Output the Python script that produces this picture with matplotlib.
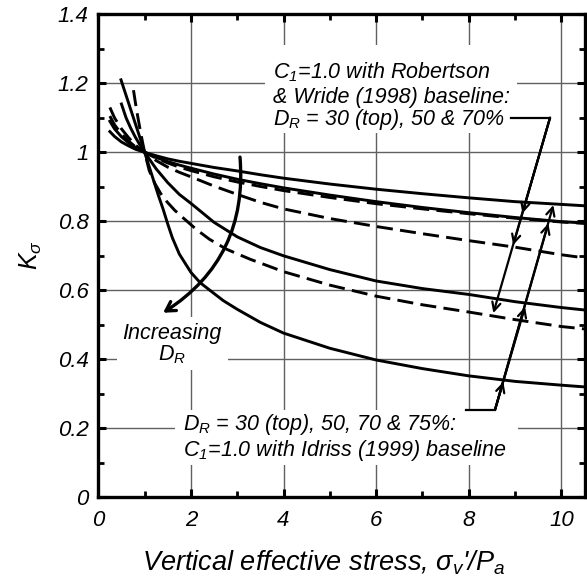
import matplotlib
matplotlib.use("Agg")
import matplotlib.pyplot as plt
from matplotlib.patches import Rectangle
from matplotlib.ticker import MultipleLocator

plt.rcParams['font.family'] = ['Liberation Sans', 'DejaVu Sans']
plt.rcParams['font.style'] = 'italic'
plt.rcParams['mathtext.fontset'] = 'custom'
plt.rcParams['mathtext.rm'] = 'Liberation Sans'
plt.rcParams['mathtext.it'] = 'Liberation Sans:italic'
plt.rcParams['mathtext.bf'] = 'Liberation Sans:bold'

# ---------------- data ----------------
# Idriss (1999) baseline, C1 = 1.0 (solid lines)
x_I30 = [0.25, 0.35, 0.5, 0.65, 0.8, 1, 1.25, 1.5, 1.75, 2, 2.5, 3, 3.5, 4, 5, 6, 7, 8, 9, 10, 10.5]
K_I30 = [1.060, 1.046, 1.030, 1.019, 1.009, 1.0, 0.990, 0.981, 0.974, 0.968, 0.956, 0.946, 0.935,
         0.925, 0.908, 0.893, 0.880, 0.868, 0.857, 0.849, 0.845]
x_I50 = [0.25, 0.35, 0.5, 0.65, 0.8, 1, 1.25, 1.5, 1.75, 2, 2.5, 3, 3.5, 4, 5, 6, 7, 8, 9, 10, 10.5]
K_I50 = [1.090, 1.068, 1.045, 1.028, 1.014, 1.0, 0.985, 0.973, 0.963, 0.954, 0.937, 0.922, 0.909,
         0.897, 0.876, 0.857, 0.840, 0.825, 0.811, 0.799, 0.795]
x_I70 = [0.5, 0.6, 0.7, 0.8, 0.9, 1, 1.25, 1.5, 1.75, 2, 2.5, 3, 3.5, 4, 5, 6, 7, 8, 9, 10, 10.5]
K_I70 = [1.140, 1.100, 1.070, 1.044, 1.021, 1.0, 0.952, 0.912, 0.878, 0.852, 0.797, 0.755, 0.724,
         0.700, 0.660, 0.627, 0.605, 0.588, 0.567, 0.550, 0.543]
x_I75 = [0.49, 0.6, 0.7, 0.8, 0.9, 1, 1.1, 1.2, 1.3, 1.4, 1.5, 1.6, 1.75, 2, 2.2, 2.41, 2.7, 3, 3.5,
         4, 5, 6, 7, 8, 9, 10, 10.5]
K_I75 = [1.210, 1.165, 1.124, 1.083, 1.042, 1.0, 0.958, 0.916, 0.874, 0.835, 0.792, 0.752, 0.705,
         0.652, 0.622, 0.600, 0.570, 0.545, 0.507, 0.476, 0.432, 0.398, 0.373, 0.352, 0.336, 0.325,
         0.320]

# Robertson & Wride (1998) baseline, C1 = 1.0 (dashed lines)
x_R30 = [0.25, 0.35, 0.5, 0.65, 0.8, 1, 1.25, 1.5, 1.75, 2, 2.5, 3, 3.5, 4, 5, 6, 7, 8, 9, 10, 10.5]
K_R30 = [1.105, 1.080, 1.053, 1.033, 1.016, 1.0, 0.983, 0.969, 0.957, 0.947, 0.929, 0.914, 0.901,
         0.889, 0.869, 0.851, 0.836, 0.822, 0.809, 0.798, 0.794]
x_R50 = [0.25, 0.35, 0.5, 0.65, 0.8, 1, 1.25, 1.5, 1.75, 2, 2.5, 3, 3.5, 4, 5, 6, 7, 8, 9, 10, 10.5]
K_R50 = [1.130, 1.100, 1.068, 1.043, 1.021, 1.0, 0.976, 0.957, 0.942, 0.929, 0.902, 0.878, 0.855,
         0.836, 0.808, 0.785, 0.764, 0.744, 0.725, 0.703, 0.694]
x_R70 = [0.76, 0.8, 0.85, 0.9, 0.95, 1, 1.1, 1.22, 1.35, 1.48, 1.65, 1.84, 2.13, 2.4, 2.77, 3.28,
         4, 5, 6, 7, 8, 9, 10, 10.5]
K_R70 = [1.180, 1.145, 1.105, 1.068, 1.033, 1.0, 0.947, 0.910, 0.880, 0.857, 0.832, 0.809, 0.775,
         0.748, 0.719, 0.690, 0.654, 0.615, 0.583, 0.558, 0.537, 0.515, 0.495, 0.488]

x_ticks = [0, 2, 4, 6, 8, 10]
x_tick_labels = ['0', '2', '4', '6', '8', '10']
y_ticks = [0, 0.2, 0.4, 0.6, 0.8, 1.0, 1.2, 1.4]
y_tick_labels = ['0', '0.2', '0.4', '0.6', '0.8', '1', '1.2', '1.4']

# ---------------- figure ----------------
W, H = 587, 585
fig = plt.figure(figsize=(W / 100, H / 100), dpi=100)
ax = fig.add_axes([98.3 / W, (H - 497.3) / H, (584.5 - 98.3) / W, (497.3 - 14.3) / H])
ax.set_xlim(0, 10.5)
ax.set_ylim(0, 1.4)
ax.set_axisbelow(True)
ax.grid(True, which='major', color='#606060', lw=1.0)

lw = 2.1
dash = (0, (5.5, 2.5))
for xs, ks in [(x_I30, K_I30), (x_I50, K_I50), (x_I70, K_I70), (x_I75, K_I75)]:
    ax.plot(xs, ks, color='black', lw=lw, solid_joinstyle='round', zorder=3)
for xs, ks in [(x_R30, K_R30), (x_R50, K_R50), (x_R70, K_R70)]:
    ax.plot(xs, ks, color='black', lw=lw, ls=dash, zorder=3)

ax.set_xticks(x_ticks)
ax.set_xticklabels(x_tick_labels)
ax.set_yticks(y_ticks)
ax.set_yticklabels(y_tick_labels)
ax.xaxis.set_minor_locator(MultipleLocator(1))
ax.yaxis.set_minor_locator(MultipleLocator(0.1))
ax.tick_params(which='both', direction='in', top=True, right=True, width=2.2)
ax.tick_params(which='major', length=6)
ax.tick_params(which='minor', length=4, width=2.0)
ax.tick_params(axis='x', which='major', labelsize=16, pad=9)
ax.tick_params(axis='y', which='major', labelsize=16, pad=7)
for s in ax.spines.values():
    s.set_linewidth(2.4)

fig.text(324 / W, 1 - 563 / H, r"Vertical effective stress, $\mathrm{\sigma}_v$'/$P_a$",
         fontsize=19.5, ha='center', va='center')
fig.text(31 / W, 1 - 255 / H, r"$K_{\mathrm{\sigma}}$", fontsize=18, rotation=90,
         ha='center', va='center')

# white boxes behind the labels (they hide the grid)
for (x0, y0, w, h) in [(3.6, 1.056, 5.44, 0.255), (0.404, 0.369, 2.40, 0.154), (1.66, 0.094, 7.4, 0.16)]:
    ax.add_patch(Rectangle((x0, y0), w, h, fc='white', ec='none', zorder=1))

fs = 15.5
ax.text(3.78, 1.2145, r"$C_{\mathit{1}}$=1.0 with Robertson", fontsize=fs, va='baseline', zorder=4)
ax.text(3.78, 1.143, "& Wride (1998) baseline:", fontsize=fs, va='baseline', zorder=4)
ax.text(3.78, 1.079, r"$D_R$ = 30 (top), 50 & 70%", fontsize=fs, va='baseline', zorder=4)

ax.text(1.823, 0.195, r"$D_R$ = 30 (top), 50, 70 & 75%:", fontsize=fs, va='baseline', zorder=4)
ax.text(1.823, 0.12, r"$C_{\mathit{1}}$=1.0 with Idriss (1999) baseline", fontsize=fs, va='baseline', zorder=4)

ax.text(1.59, 0.476, "Increasing", fontsize=fs, ha='center', va='center', zorder=4)
ax.text(1.59, 0.412, r"$D_R$", fontsize=fs, ha='center', va='center', zorder=4)

# leader arrows
aprops = dict(arrowstyle='->,head_length=0.6,head_width=0.3', lw=1.6, color='black',
              shrinkA=0, shrinkB=0)
cR = (9.755, 1.100)
ax.plot([8.92, cR[0]], [cR[1], cR[1]], color='black', lw=1.6, zorder=4)
for t in [(9.158, 0.823), (8.959, 0.731), (8.531, 0.534)]:
    ax.annotate('', xy=t, xytext=cR, arrowprops=aprops, zorder=4)

cI = (8.568, 0.254)
ax.plot([7.95, cI[0]], [cI[1], cI[1]], color='black', lw=1.6, zorder=4)
for t in [(8.747, 0.335), (9.216, 0.552), (9.719, 0.794), (9.827, 0.847)]:
    ax.annotate('', xy=t, xytext=cI, arrowprops=aprops, zorder=4)

ax.annotate('', xy=(1.40, 0.535), xytext=(3.06, 0.986),
            arrowprops=dict(arrowstyle='->,head_length=0.65,head_width=0.38', lw=2.4,
                            color='black', shrinkA=0, shrinkB=0,
                            connectionstyle='arc3,rad=-0.3'), zorder=4)

fig.savefig('out.png', dpi=100)
